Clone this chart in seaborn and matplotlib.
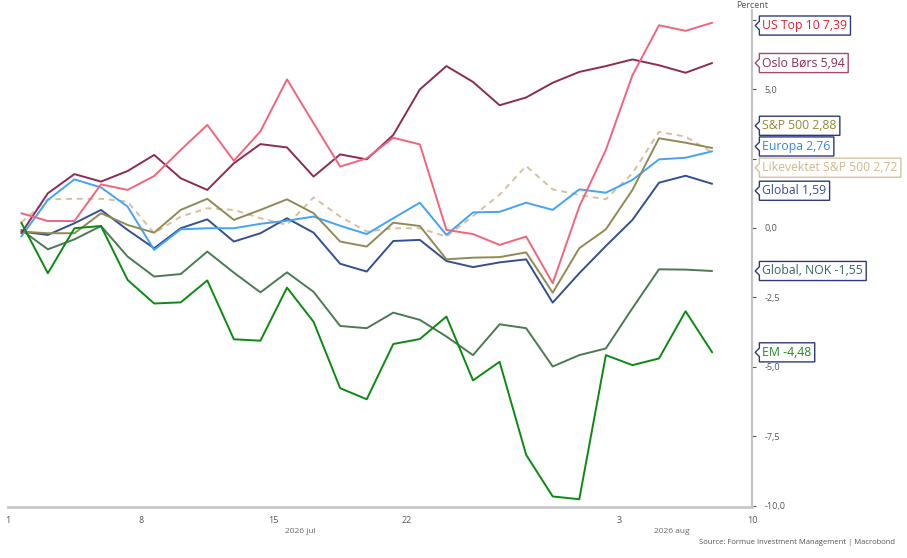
import numpy as np
import pandas as pd
import seaborn as sns
import matplotlib.pyplot as plt
from matplotlib.path import Path
import matplotlib.transforms as mtransforms

# Series, daily returns since start of July 2026 (business days), percent
start_date = "2026-07-01"
us_top10 = [0.53, 0.25, 0.25, 1.57, 1.37, 1.87, 2.81, 3.71, 2.42, 3.48, 5.35, 3.77, 2.21, 2.51,
            3.25, 3.01, -0.07, -0.22, -0.61, -0.31, -1.99, 0.77, 2.81, 5.50, 7.30, 7.10, 7.39]
oslo = [-0.19, 1.25, 1.94, 1.67, 2.05, 2.63, 1.79, 1.37, 2.33, 3.02, 2.90, 1.85, 2.65, 2.47,
        3.35, 4.99, 5.83, 5.26, 4.42, 4.70, 5.23, 5.62, 5.83, 6.07, 5.86, 5.59, 5.94]
sp500 = [-0.13, -0.19, -0.19, 0.53, 0.11, -0.17, 0.65, 1.05, 0.29, 0.65, 1.03, 0.53, -0.49, -0.67,
         0.19, 0.07, -1.13, -1.07, -1.05, -0.88, -2.33, -0.73, -0.05, 1.37, 3.23, 3.07, 2.88]
europa = [-0.31, 1.01, 1.75, 1.46, 0.77, -0.79, -0.05, -0.01, -0.01, 0.15, 0.26, 0.41, 0.08, -0.22,
          0.35, 0.91, -0.25, 0.56, 0.58, 0.91, 0.65, 1.39, 1.27, 1.73, 2.47, 2.53, 2.76]
likevektet = [0.20, 1.03, 1.05, 1.05, 0.95, -0.19, 0.41, 0.71, 0.65, 0.35, 0.11, 1.10, 0.41, -0.13,
              -0.01, -0.01, -0.31, 0.43, 1.20, 2.23, 1.39, 1.19, 1.03, 1.97, 3.46, 3.29, 2.72]
global_ = [-0.13, -0.25, 0.17, 0.65, -0.07, -0.73, -0.01, 0.31, -0.49, -0.19, 0.35, -0.17, -1.29, -1.57,
           -0.47, -0.43, -1.19, -1.41, -1.24, -1.13, -2.69, -1.63, -0.65, 0.29, 1.63, 1.88, 1.59]
global_nok = [-0.07, -0.77, -0.41, 0.07, -1.03, -1.75, -1.66, -0.85, -1.61, -2.32, -1.60, -2.30, -3.53, -3.61,
              -3.05, -3.31, -3.91, -4.58, -3.47, -3.61, -4.99, -4.58, -4.34, -2.89, -1.49, -1.50, -1.55]
em = [0.19, -1.63, -0.01, 0.07, -1.87, -2.72, -2.68, -1.89, -4.01, -4.06, -2.15, -3.38, -5.77, -6.17,
      -4.18, -4.00, -3.19, -5.49, -4.82, -8.17, -9.67, -9.77, -4.58, -4.94, -4.70, -3.00, -4.48]

names = ["Likevektet S&P 500", "Global", "Global, NOK", "Europa", "S&P 500", "Oslo Børs", "US Top 10", "EM"]
values = [likevektet, global_, global_nok, europa, sp500, oslo, us_top10, em]
line_colors = ["#d6c19f", "#34508f", "#4a7a52", "#42a3f7", "#918a55", "#8c2b55", "#f2647c", "#0b8a12"]
text_colors = ["#d2b88c", "#34508f", "#2f6a62", "#3b84d8", "#8f8a3a", "#8c2b55", "#ee1c2e", "#1e8a1e"]
edge_colors = ["#d6c19f", "#2e3a7a", "#2e3a7a", "#2e3a7a", "#2e3a7a", "#a04a70", "#2e3a7a", "#2e3a7a"]
# vertical nudge of the label boxes (points) so they don't overlap
label_nudge = [-11, -5, 0, 3.5, 16, 0, -2, 0]

tick_dates = ["2026-07-01", "2026-07-08", "2026-07-15", "2026-07-22", "2026-08-03", "2026-08-10"]
tick_labels = ["1", "8", "15", "22", "3", "10"]
month_labels = ["2026 jul", "2026 aug"]
month_dates = ["2026-07-16", "2026-08-05"]

# business-day positions, points plotted at the middle of each day
dates = pd.bdate_range(start_date, periods=len(em))
pos = np.busday_count(np.datetime64(start_date), dates.values.astype("datetime64[D]")) + 0.5

rows = []
for name, vals in zip(names, values):
    for p, v in zip(pos, vals):
        rows.append({"series": name, "pos": p, "value": v})
df = pd.DataFrame(rows)

sns.set_style("white")
plt.rcParams["font.family"] = ["Open Sans", "DejaVu Sans"]

fig, ax = plt.subplots(figsize=(9.07, 5.58), dpi=100)
fig.subplots_adjust(left=8 / 907, right=752 / 907, bottom=1 - 507 / 558, top=1 - 10 / 558)

palette = dict(zip(names, line_colors))
dashes = {n: "" for n in names}
dashes["Likevektet S&P 500"] = (3, 2.5)
sns.lineplot(data=df, x="pos", y="value", hue="series", style="series", hue_order=names,
             style_order=names, palette=palette, dashes=dashes, linewidth=1.4, legend=False, ax=ax)

ax.set_xlim(0, 28)
ax.set_ylim(-10.05, 7.85)
ax.set_xlabel("")
ax.set_ylabel("")

tick_pos = [np.busday_count(np.datetime64(start_date), np.datetime64(d)) for d in tick_dates]
ax.set_xticks(tick_pos)
ax.set_xticklabels(tick_labels)
yt = np.arange(-10, 7.6, 2.5)
ax.set_yticks(yt)
# labels at 7,5 and 2,5 sit behind the series boxes in the original
ax.set_yticklabels(["" if t in (2.5, 7.5) else f"{t:.1f}".replace(".", ",") for t in yt])
ax.yaxis.tick_right()
ax.tick_params(axis="both", labelsize=6.5, labelcolor="#555555", color="#555555",
               length=3, width=0.8, direction="out")
ax.tick_params(axis="y", pad=6)

for side in ["left", "top"]:
    ax.spines[side].set_visible(False)
ax.spines["right"].set_color("#c4c4c4")
ax.spines["right"].set_linewidth(1.5)
ax.spines["bottom"].set_color("#c8c8c8")
ax.spines["bottom"].set_linewidth(2)

for lab, d in zip(month_labels, month_dates):
    mp = np.busday_count(np.datetime64(start_date), np.datetime64(d))
    ax.text(mp, -0.05, lab, transform=ax.get_xaxis_transform(), ha="center", va="center",
            fontsize=6, color="#666666")

ax.text(1.0, 1.0, "Percent", transform=ax.transAxes, ha="center", va="bottom",
        fontsize=6.5, color="#555555")
fig.text(0.987, 0.027, "Source: Formue Investment Management | Macrobond", ha="right",
         va="center", fontsize=5.5, color="#555555")


def notch_box(x0, y0, width, height, mutation_size):
    pad = 0.25 * mutation_size
    x0, y0 = x0 - pad, y0 - pad
    x1, y1 = x0 + width + 2 * pad, y0 + height + 2 * pad
    ym = (y0 + y1) / 2
    n = 0.22 * (y1 - y0)
    verts = [(x0, y0), (x1, y0), (x1, y1), (x0, y1), (x0, ym + n), (x0 - n, ym), (x0, ym - n), (x0, y0)]
    codes = [Path.MOVETO] + [Path.LINETO] * 6 + [Path.CLOSEPOLY]
    return Path(verts, codes)


trans = mtransforms.blended_transform_factory(ax.transAxes, ax.transData)
for name, vals, tc, ec, nudge in zip(names, values, text_colors, edge_colors, label_nudge):
    last = vals[-1]
    label = f"{name} {last:.2f}".replace(".", ",")
    ax.annotate(label, xy=(1.0, last), xycoords=trans, xytext=(7.5, nudge), textcoords="offset points",
                ha="left", va="center", fontsize=8.8, color=tc, annotation_clip=False, zorder=10,
                bbox=dict(boxstyle=notch_box, fc="white", ec=ec, lw=1.0))

plt.savefig("out.png", dpi=100)
